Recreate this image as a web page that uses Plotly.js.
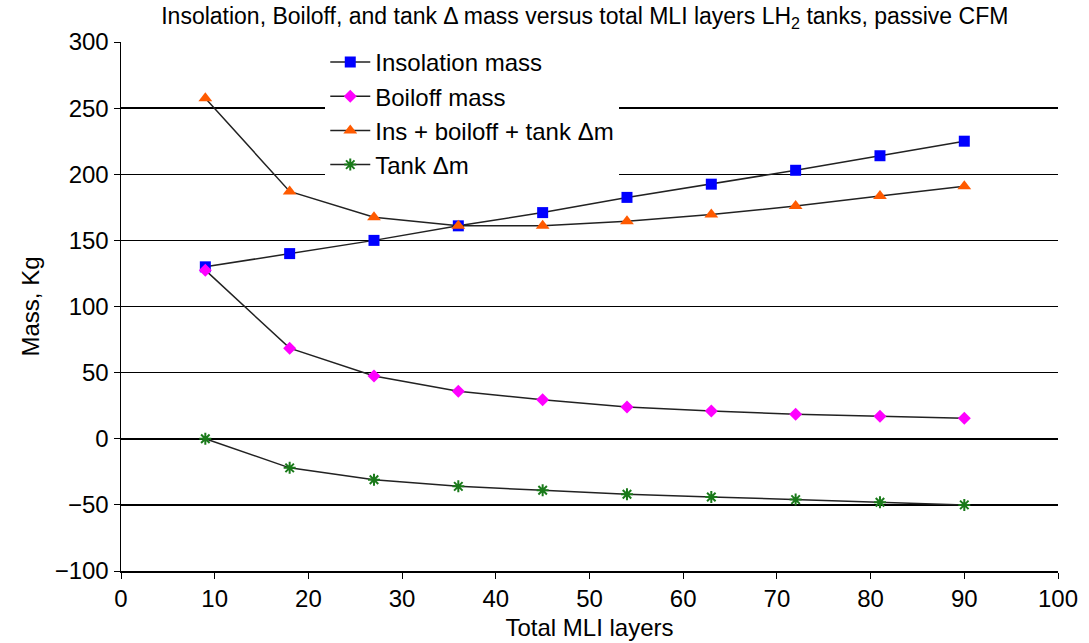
<!DOCTYPE html>
<html><head><meta charset="utf-8">
<script src="https://cdn.plot.ly/plotly-3.0.1.min.js"></script>
<style>html,body{margin:0;padding:0;background:#fff}#chart{width:1089px;height:643px}</style>
</head><body><div id="chart"></div>
<script>
const layers = [9, 18, 27, 36, 45, 54, 63, 72, 81, 90];
const insolationMass = [130, 140, 150, 161, 171, 182.5, 192.5, 203, 214, 225];
const boiloffMass = [127.5, 68.5, 47.5, 36, 29.5, 24, 21, 18.5, 17, 15.5];
const totalMass = [257.5, 187, 167.5, 161, 161, 164.5, 169.5, 176, 183.5, 191];
const tankDeltaM = [0, -22, -31, -36, -39, -42, -44, -46, -48, -50];
const seriesNames = ["Insolation mass", "Boiloff mass", "Ins + boiloff + tank \u0394m", "Tank \u0394m"];
const xTicks = [0,10,20,30,40,50,60,70,80,90,100];
const yTicks = [-100,-50,0,50,100,150,200,250,300];
const yTickText = yTicks.map(v => v < 0 ? "\u2212" + Math.abs(v) : String(v));

const line = {color: "#222", width: 1.5};
const traces = [
  {x: layers, y: insolationMass, name: seriesNames[0], mode: "lines+markers", line: line,
   marker: {symbol: "square", color: "#0000ff", size: 11}},
  {x: layers, y: boiloffMass, name: seriesNames[1], mode: "lines+markers", line: line,
   marker: {symbol: "diamond", color: "#ff00ff", size: 10}},
  {x: layers, y: totalMass, name: seriesNames[2], mode: "lines+markers", line: line,
   marker: {symbol: "triangle-up", color: "#ff5a00", size: 12}},
  {x: layers, y: tankDeltaM, name: seriesNames[3], mode: "lines+markers", line: line,
   marker: {symbol: "asterisk-open", color: "#1a7a1a", size: 10, line: {color: "#1a7a1a", width: 2}}}
];
const font = {family: "Liberation Sans, Arial, sans-serif", color: "#000"};
const layout = {
  width: 1089, height: 643,
  margin: {l: 121, r: 31, t: 42, b: 72},
  paper_bgcolor: "#fff", plot_bgcolor: "#fff",
  font: Object.assign({size: 24}, font),
  title: {text: "Insolation, Boiloff, and tank \u0394 mass versus total MLI layers LH<sub>2</sub> tanks, passive CFM",
    font: Object.assign({size: 23}, font), x: 0.537, xanchor: "center", y: 0.988, yanchor: "top"},
  xaxis: {range: [0, 100], tickvals: xTicks, ticktext: xTicks.map(String), ticks: "outside", ticklen: 6,
    tickcolor: "#000", showline: true, linecolor: "#000", linewidth: 1.5, showgrid: false, zeroline: false,
    title: {text: "Total MLI layers", font: Object.assign({size: 24}, font), standoff: 8},
    tickfont: Object.assign({size: 24}, font)},
  yaxis: {range: [-100, 300], tickvals: yTicks, ticktext: yTickText, ticks: "outside", ticklen: 6,
    tickcolor: "#000", showline: true, linecolor: "#000", linewidth: 1.5, showgrid: true, gridcolor: "#000",
    gridwidth: 1.5, zeroline: false,
    title: {text: "Mass, Kg", font: Object.assign({size: 24}, font), standoff: 8},
    tickfont: Object.assign({size: 24}, font)},
  showlegend: true,
  legend: {x: 0.218, y: 1.004, xanchor: "left", yanchor: "top", bgcolor: "#fff", borderwidth: 0,
    font: Object.assign({size: 24}, font), tracegroupgap: 0, itemwidth: 40}
};
Plotly.newPlot("chart", traces, layout, {displayModeBar: false, staticPlot: true});
</script></body></html>
